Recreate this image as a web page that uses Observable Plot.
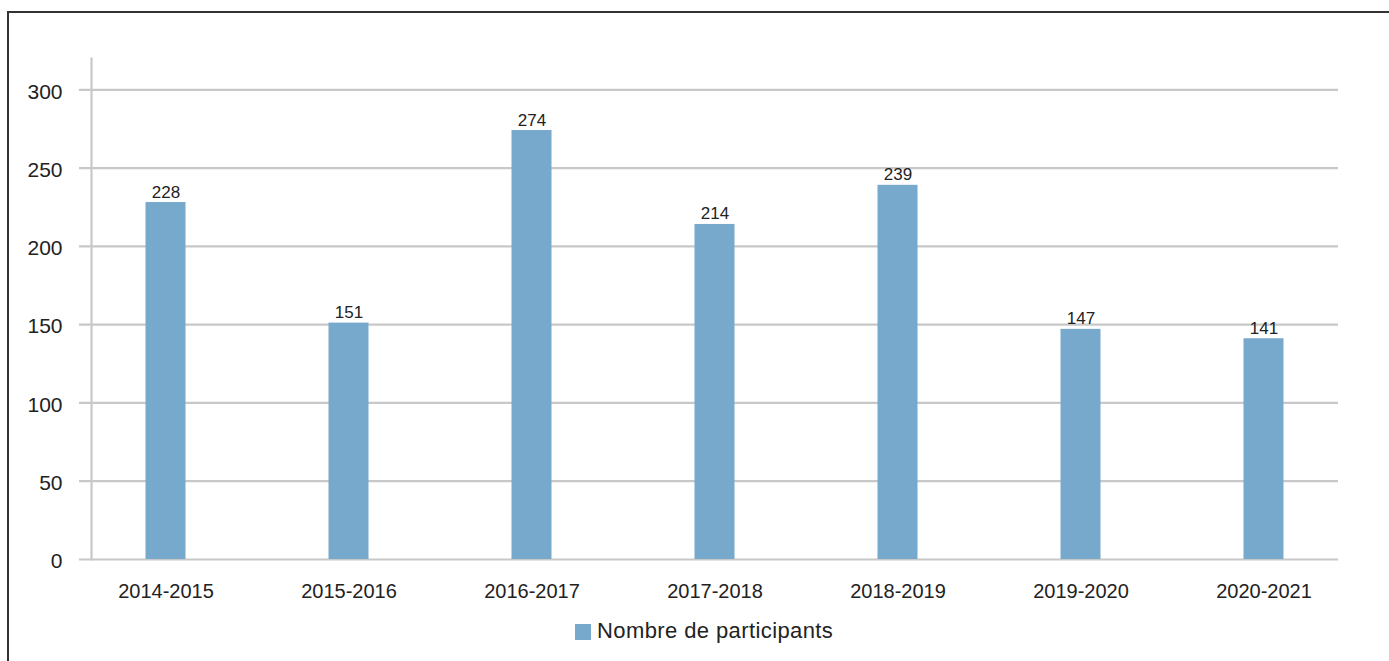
<!DOCTYPE html>
<html>
<head>
<meta charset="utf-8">
<script src="https://cdn.jsdelivr.net/npm/d3@7"></script>
<script src="https://cdn.jsdelivr.net/npm/@observablehq/plot@0.6"></script>
<style>
  html, body { margin: 0; padding: 0; background: #fff; }
  body { width: 1389px; height: 661px; overflow: hidden; position: relative; font-family: "Liberation Sans", Arial, sans-serif; }
  #frame { position: absolute; left: 7px; top: 11px; width: 1400px; height: 700px; border-top: 2px solid #333; border-left: 2px solid #333; box-sizing: border-box; pointer-events: none; }
  #chart svg { display: block; }
  #legend { position: relative; height: 56px; }
  #legend .sw { position: absolute; left: 575px; top: 19px; width: 16px; height: 16px; background: #77a9cd; }
  #legend .lb { position: absolute; left: 597px; top: 12px; font-size: 22px; line-height: 28px; color: #222; letter-spacing: 0.4px; white-space: nowrap; }
</style>
</head>
<body>
<div id="frame"></div>
<div id="chart"></div>
<div id="legend"><div class="sw"></div><div class="lb">Nombre de participants</div></div>
<script>
const categories = ["2014-2015", "2015-2016", "2016-2017", "2017-2018", "2018-2019", "2019-2020", "2020-2021"];
const participants = [228, 151, 274, 214, 239, 147, 141];
const yTicks = [0, 50, 100, 150, 200, 250, 300];
const seriesName = "Nombre de participants";

const data = categories.map((c, i) => ({ annee: c, valeur: participants[i] }));
const barColor = "#77a9cd";
const gridColor = "#c8c8c8";

const chart = Plot.plot({
  width: 1389,
  height: 605,
  marginLeft: 91,
  marginRight: 51,
  marginTop: 58,
  marginBottom: 46,
  style: { fontFamily: "'Liberation Sans', Arial, sans-serif", color: "#222", background: "transparent" },
  x: { domain: categories, range: [73.5, 1354.5], padding: 0, label: null },
  y: { domain: [0, 320], label: null },
  marks: [
    Plot.ruleY(yTicks, { stroke: gridColor, strokeWidth: 2.2, insetLeft: -12 }),
    Plot.frame({ anchor: "left", stroke: gridColor, strokeWidth: 2.2 }),
    Plot.barY(data, { x: "annee", y: "valeur", fill: barColor, insetLeft: 71.5, insetRight: 71.5 }),
    Plot.text(data, { x: "annee", y: "valeur", text: d => String(d.valeur), lineAnchor: "bottom", dy: -5, fontSize: 17, fill: "#222" }),
    Plot.axisX({ tickSize: 0, tickPadding: 24, fontSize: 20, label: null }),
    Plot.axisY({ ticks: yTicks, tickSize: 0, tickPadding: 29, fontSize: 21, label: null, dy: 2 })
  ]
});
document.getElementById("chart").appendChild(chart);
</script>
</body>
</html>
